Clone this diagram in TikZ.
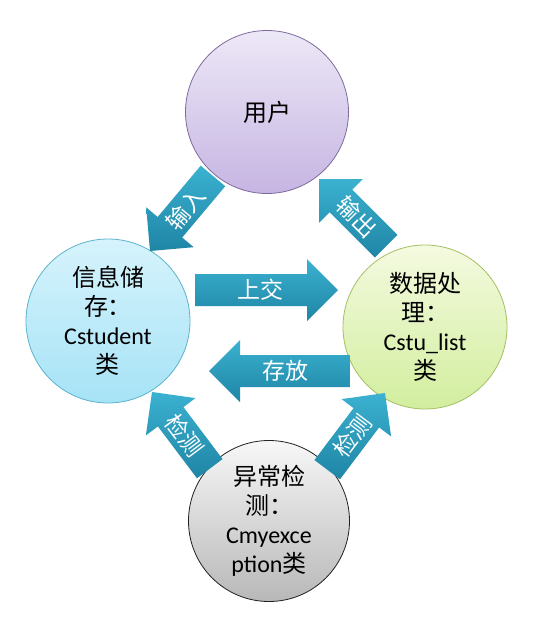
\documentclass[tikz,border=0pt]{standalone}
\usepackage{fontspec}
\setmainfont{Carlito}
\newfontfamily\cjk{Noto Sans CJK SC}
\usetikzlibrary{calc}
\definecolor{userTop}{HTML}{EDE8F7}
\definecolor{userBot}{HTML}{C6B5E2}
\definecolor{userBd}{HTML}{7E6A9C}
\definecolor{infoTop}{HTML}{D6F3FC}
\definecolor{infoBot}{HTML}{A6E3F6}
\definecolor{infoBd}{HTML}{5DB3CC}
\definecolor{procTop}{HTML}{F4FAE0}
\definecolor{procBot}{HTML}{D2EE9E}
\definecolor{procBd}{HTML}{A3C062}
\definecolor{chkTop}{HTML}{F7F7F7}
\definecolor{chkBot}{HTML}{B8B8B8}
\definecolor{chkBd}{HTML}{202020}
\definecolor{arrTop}{HTML}{3BB1D0}
\definecolor{arrBot}{HTML}{1F85A5}
\newcommand\blockarrow[6]{%
  \begin{scope}[shift={(#2)}, rotate=#3]
    \shade[arrowfill] (0,0) -- (-31,31) -- (-31,16) -- (-#4,16) -- (-#4,-16)
      -- (-31,-16) -- (-31,-31) -- cycle;
    \node[arrowtext, rotate=#6] (#1) at ({-#4/2-6},0) {#5};
  \end{scope}}
\begin{document}
\begin{tikzpicture}[x=1pt,y=1pt,
  circ/.style={circle, draw, line width=0.8pt, inner sep=0pt, minimum size=#1,
    align=center, font=\fontsize{24}{29}\selectfont, text=black},
  arrowfill/.style={top color=arrTop, bottom color=arrBot, draw=none},
  arrowtext/.style={text=white, font=\cjk\fontsize{23}{26}\selectfont, inner sep=0pt}]
\fill[white] (0,0) rectangle (557,-641);
\useasboundingbox (0,0) rectangle (557,-641);
% circles
\node[circ=163pt, draw=userBd, top color=userTop, bottom color=userBot] (user) at (267,-112) {\cjk 用户};
\node[circ=164pt, draw=infoBd, top color=infoTop, bottom color=infoBot] (info) at (108,-321)
  {{\cjk 信息储}\\{\cjk 存：}\\Cstudent\\{\cjk 类}};
\node[circ=164pt, draw=procBd, top color=procTop, bottom color=procBot] (proc) at (425,-327)
  {{\cjk 数据处}\\{\cjk 理：}\\Cstu\_list\\{\cjk 类}};
\node[circ=161pt, draw=chkBd, top color=chkTop, bottom color=chkBot] (chk) at (269,-521)
  {{\cjk 异常检}\\{\cjk 测：}\\Cmyexce\\ption{\cjk 类}};
% tips of the block arrows
\coordinate (shareTip) at (338,-290);
\coordinate (storeTip) at (209,-371);
\coordinate (inTip) at (150,-251);
\coordinate (outTip) at (319,-179);
\coordinate (chkLTip) at (152,-392);
\coordinate (chkRTip) at (385,-393);
% block arrows
\blockarrow{share}{shareTip}{0}{143}{上交}{0}
\blockarrow{store}{storeTip}{180}{141}{存放}{0}
\blockarrow{input}{inTip}{230}{98}{输入}{50}
\blockarrow{output}{outTip}{135}{95}{输出}{-45}
\blockarrow{checkL}{chkLTip}{127}{96}{检测}{-53}
\blockarrow{checkR}{chkRTip}{53}{96}{检测}{53}
\end{tikzpicture}
\end{document}
